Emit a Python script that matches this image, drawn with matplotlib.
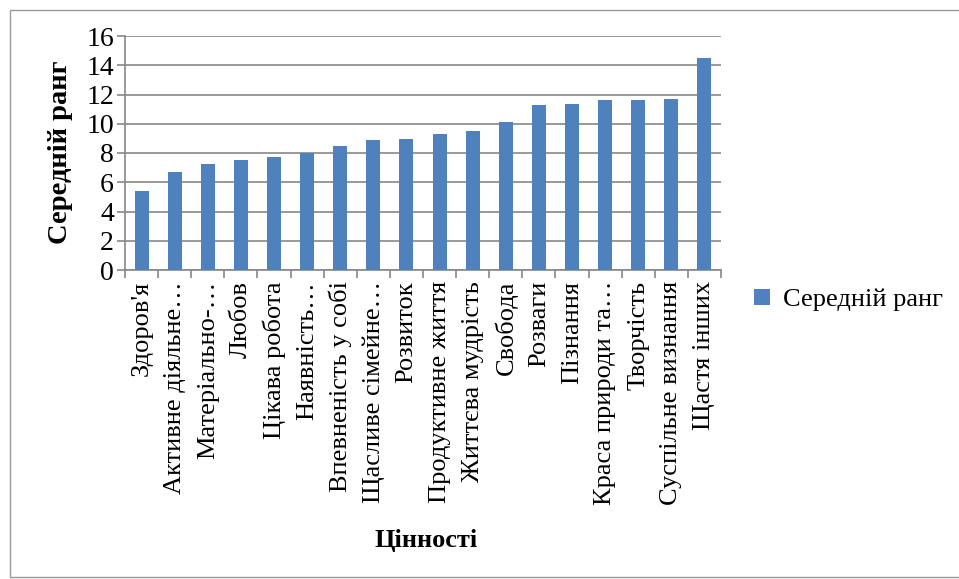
import matplotlib
matplotlib.use("Agg")
import matplotlib.pyplot as plt
from matplotlib.patches import Rectangle
from matplotlib.ticker import MultipleLocator, FixedLocator
import numpy as np

categories = ["Здоров'я", "Активне діяльне…", "Матеріально-…", "Любов", "Цікава робота",
              "Наявність…", "Впевненість у собі", "Щасливе сімейне…", "Розвиток",
              "Продуктивне життя", "Життєва мудрість", "Свобода", "Розваги", "Пізнання",
              "Краса природи та…", "Творчість", "Суспільне визнання", "Щастя інших"]
values = [5.4, 6.68, 7.28, 7.5, 7.74, 8.02, 8.45, 8.9, 8.95, 9.27, 9.53, 10.14,
          11.31, 11.34, 11.59, 11.63, 11.72, 14.5]
series_name = "Середній ранг"
y_label = "Середній ранг"
x_label = "Цінності"

plt.rcParams['font.family'] = ['Liberation Serif', 'DejaVu Serif']

fig = plt.figure(figsize=(9.59, 5.79), dpi=100)
ax = fig.add_axes([125/959, 1-270/579, (721-125)/959, (270-36)/579])

x = np.arange(len(categories))
ax.bar(x, values, width=0.42, color='#4F81BD', label=series_name, zorder=3)

ax.set_xlim(-0.5, len(categories)-0.5)
ax.set_ylim(0, 16)
ax.yaxis.set_major_locator(MultipleLocator(2))
ax.grid(axis='y', color='#888888', linewidth=1.2, zorder=0)
for s in ['top', 'right']:
    ax.spines[s].set_visible(False)
ax.spines['left'].set_color('#888888')
ax.spines['bottom'].set_color('#888888')
ax.spines['left'].set_linewidth(1.2)
ax.spines['bottom'].set_linewidth(1.2)

ax.set_xticks(x)
ax.set_xticklabels(categories, rotation=90, fontsize=19)
ax.tick_params(axis='x', which='major', length=0, pad=8)
ax.xaxis.set_minor_locator(FixedLocator(np.arange(-0.5, len(categories), 1)))
ax.tick_params(axis='x', which='minor', length=6, color='#888888', width=1.2)
ax.tick_params(axis='y', labelsize=20, length=6, color='#888888', width=1.2, pad=2)

ax.set_ylabel(y_label, fontsize=20.5, fontweight='bold')
ax.yaxis.set_label_coords(73/959, 1-152/579, transform=fig.transFigure)
fig.text(426/959, 1-540/579, x_label, fontsize=19, fontweight='bold', ha='center', va='center')

fig.legend(loc='center left', bbox_to_anchor=(730/959, 1-300/579), frameon=False,
           fontsize=19, handlelength=0.6, handleheight=0.6, handletextpad=0.5)

fig.patches.append(Rectangle((10/959, 2/579), 1.0, 1-10/579-2/579, transform=fig.transFigure,
                             fill=False, edgecolor='#999999', linewidth=1.0))

fig.savefig("out.png", dpi=100)
